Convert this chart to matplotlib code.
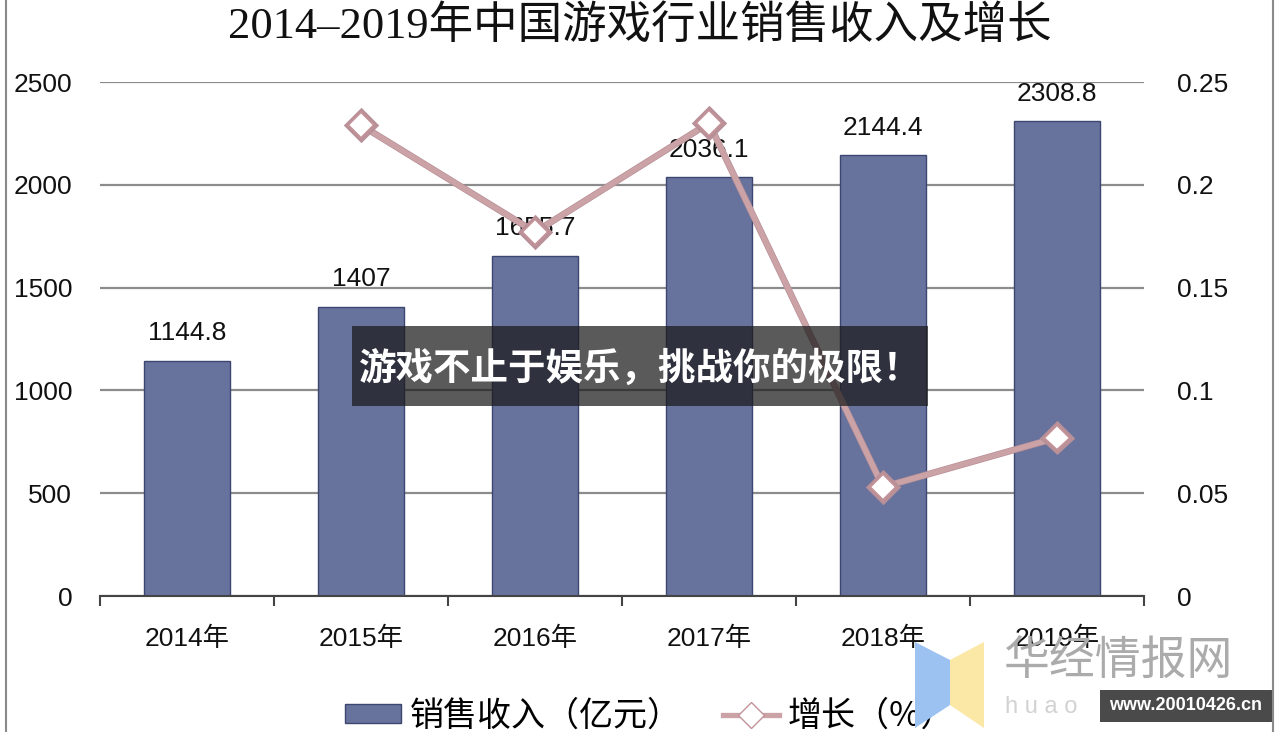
import matplotlib
matplotlib.use("Agg")
import matplotlib.pyplot as plt
import matplotlib.patheffects as pe
from matplotlib.patches import Rectangle, Polygon
from matplotlib.lines import Line2D
from matplotlib.ticker import FixedLocator

plt.rcParams['font.family'] = ['Liberation Sans', 'Noto Sans CJK SC']

years = ["2014年", "2015年", "2016年", "2017年", "2018年", "2019年"]
revenue = [1144.8, 1407, 1655.7, 2036.1, 2144.4, 2308.8]
growth_years = [1, 2, 3, 4, 5]
growth = [0.229, 0.177, 0.230, 0.053, 0.077]
left_ticks = [0, 500, 1000, 1500, 2000, 2500]
right_ticks = [0, 0.05, 0.1, 0.15, 0.2, 0.25]
right_labels = ["0", "0.05", "0.1", "0.15", "0.2", "0.25"]

W, H = 1280, 732
fig = plt.figure(figsize=(W / 100, H / 100), dpi=100)


def fx(x):
    return x / W


def fy(y):
    return 1 - y / H


ax = fig.add_axes([fx(100), fy(596), fx(1044), 514 / H])
x = list(range(len(years)))
bar_color = "#67739c"
ax.bar(x, revenue, width=0.49, color=bar_color, edgecolor="#3c4670", linewidth=1, zorder=2)
for xi, v in zip(x, revenue):
    ax.annotate(f"{v:g}", (xi, v), xytext=(0, 11), textcoords="offset points",
                ha="center", va="bottom", fontsize=19, color="#111111", zorder=5)

ax.set_xlim(-0.5, 5.5)
ax.set_ylim(0, 2500)
ax.set_yticks(left_ticks)
ax.set_yticklabels([str(t) for t in left_ticks])
ax.set_xticks(x)
ax.set_xticklabels(years)
ax.xaxis.set_minor_locator(FixedLocator([i - 0.5 for i in range(len(years) + 1)]))
ax.tick_params(axis="x", which="major", length=0, pad=22, labelsize=19, labelcolor="#111111")
ax.tick_params(axis="x", which="minor", length=7, width=1.5, color="#444444", direction="out")
ax.tick_params(axis="y", length=0, pad=20, labelsize=19, labelcolor="#111111")
for s in ["top", "left", "right"]:
    ax.spines[s].set_visible(False)
ax.spines["bottom"].set_color("#444444")
ax.spines["bottom"].set_linewidth(1.5)
ax.set_axisbelow(True)
ax.yaxis.grid(True, color="#8c8c8c", linewidth=1.6)

ax2 = ax.twinx()
ax2.plot(growth_years, growth, color="#cba2a6", linewidth=3.8, marker="D", markersize=13,
         markerfacecolor="white", markeredgecolor="#c39298", markeredgewidth=1.5, zorder=4,
         path_effects=[pe.Stroke(linewidth=4.8, foreground="#b89098"), pe.Normal()])
ax2.set_ylim(0, 0.25)
ax2.set_yticks(right_ticks)
ax2.set_yticklabels(right_labels)
ax2.tick_params(axis="y", length=0, pad=24, labelsize=19, labelcolor="#111111")
for s in ["top", "left", "right", "bottom"]:
    ax2.spines[s].set_visible(False)

fig.text(0.5, fy(26), "2014–2019年中国游戏行业销售收入及增长", ha="center", va="center",
         fontsize=32, color="#111111", family=["Liberation Serif", "Noto Sans CJK SC"])

# legend
handles = [Rectangle((0, 0), 1, 1, facecolor=bar_color, edgecolor="#3c4670"),
           Line2D([0], [0], color="#cba2a6", linewidth=3.8, marker="D", markersize=13,
                  markerfacecolor="white", markeredgecolor="#c39298")]
fig.legend(handles, ["销售收入（亿元）", "增长（%）"], loc="center", ncol=2,
           bbox_to_anchor=(fx(650), fy(716)), frameon=False,
           handlelength=1.65, handleheight=0.45, columnspacing=1.2, handletextpad=0.25,
           prop={"family": ["Noto Sans CJK SC"], "size": 24.5})

# overlay banner
fig.patches.append(Rectangle((fx(352), fy(406)), fx(576), 80 / H, transform=fig.transFigure,
                             facecolor="#1a1a1a", alpha=0.72, edgecolor="none", zorder=10))
fig.text(fx(640), fy(368), "游戏不止于娱乐，挑战你的极限！", ha="center", va="center",
         fontsize=27, color="white", fontweight="bold", family=["Noto Sans CJK SC"], zorder=11)

# watermark
fig.patches.append(Polygon([(fx(915), fy(642)), (fx(950), fy(660)), (fx(950), fy(705)), (fx(915), fy(728))],
                           closed=True, transform=fig.transFigure, facecolor="#9cc2f2",
                           edgecolor="none", zorder=8))
fig.patches.append(Polygon([(fx(950), fy(660)), (fx(984), fy(642)), (fx(984), fy(728)), (fx(950), fy(705))],
                           closed=True, transform=fig.transFigure, facecolor="#fbe8a6",
                           edgecolor="none", zorder=8))
fig.text(fx(1004), fy(662), "华经情报网", ha="left", va="center", fontsize=33,
         color="#ababab", family=["Noto Sans CJK SC"], zorder=8)
fig.text(fx(1005), fy(707), "h u a o", ha="left", va="center", fontsize=17,
         color="#d2d2d2", zorder=8)
fig.patches.append(Rectangle((fx(1100), fy(722)), fx(172), 32 / H, transform=fig.transFigure,
                             facecolor="#4a4a4a", edgecolor="none", zorder=12))
fig.text(fx(1186), fy(706), "www.20010426.cn", ha="center", va="center", fontsize=13,
         color="white", fontweight="bold", zorder=13)

# outer frame lines
for xv in (6, 1273):
    fig.add_artist(Line2D([fx(xv), fx(xv)], [0, 1], transform=fig.transFigure,
                          color="#8a8a8a", linewidth=1.5))

fig.savefig("out.png", dpi=100)
